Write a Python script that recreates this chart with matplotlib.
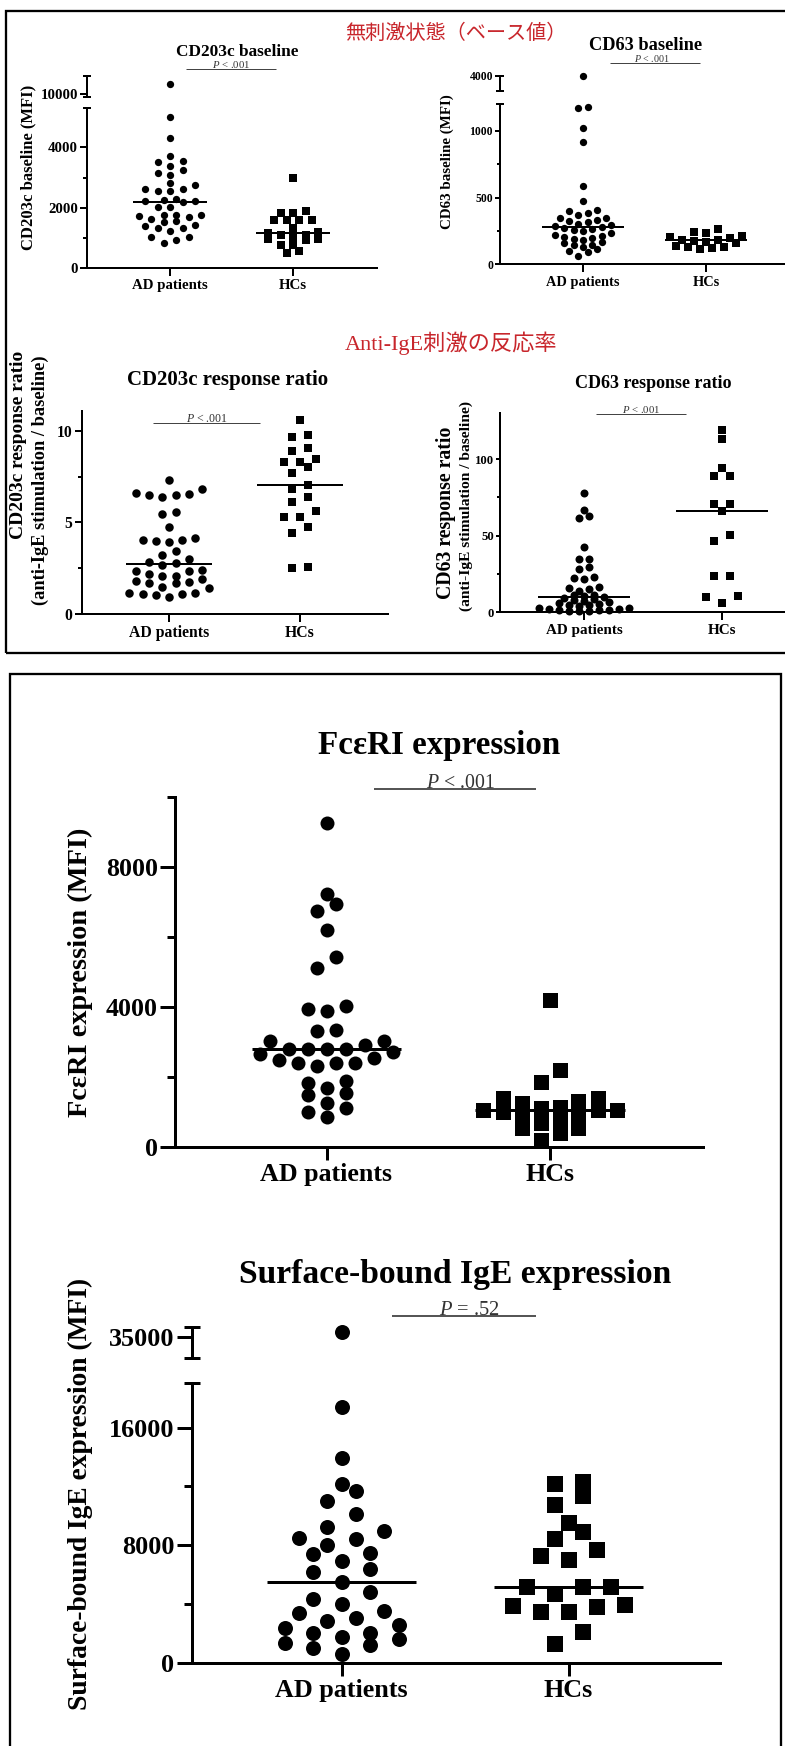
import numpy as np
import matplotlib
matplotlib.use('Agg')
import matplotlib.pyplot as plt
from matplotlib.patches import Rectangle
from matplotlib.lines import Line2D

W, H, DPI = 785, 1746, 100

plt.rcParams['font.family'] = ['Liberation Serif', 'Noto Sans CJK JP', 'DejaVu Sans']
plt.rcParams['font.weight'] = 'bold'
plt.rcParams['mathtext.fontset'] = 'custom'
plt.rcParams['mathtext.rm'] = 'Liberation Serif:normal'
plt.rcParams['mathtext.it'] = 'Liberation Serif:italic:normal'

groups = ['AD patients', 'HCs']

cd203c_base_ad = [10300, 5000, 4300, 3733, 3567, 3511, 3400, 3267, 3144, 3100,
                  2822, 2744, 2633, 2633, 2544, 2544, 2289, 2267, 2211, 2211,
                  2189, 2022, 2022, 1767, 1767, 1744, 1733, 1689, 1633, 1567,
                  1511, 1433, 1378, 1322, 1322, 1233, 1022, 1022, 933, 844]
cd203c_base_hc = [3000, 1878, 1822, 1822, 1600, 1600, 1580, 1578, 1322, 1211,
                  1178, 1100, 1100, 1044, 956, 956, 933, 767, 767, 578, 511]
cd63_base_ad = [4000, 1180, 1170, 1020, 920, 590, 475, 405, 400, 388, 370, 345,
                345, 332, 325, 315, 305, 298, 290, 280, 272, 262, 258, 248, 232,
                220, 210, 205, 200, 190, 185, 170, 160, 148, 145, 130, 115, 100,
                90, 65]
cd63_base_hc = [262, 245, 232, 210, 202, 200, 185, 182, 178, 170, 160, 138, 128,
                128, 120, 112]
cd203c_ratio_ad = [7.31, 6.80, 6.58, 6.55, 6.49, 6.49, 6.40, 5.58, 5.45, 4.73,
                   4.13, 4.04, 4.04, 4.00, 3.95, 3.45, 3.22, 2.98, 2.82, 2.76,
                   2.70, 2.40, 2.36, 2.36, 2.20, 2.07, 2.07, 1.89, 1.80, 1.75,
                   1.67, 1.67, 1.49, 1.40, 1.16, 1.16, 1.09, 1.09, 1.04, 0.95]
cd203c_ratio_hc = [10.58, 9.80, 9.64, 9.04, 8.90, 8.44, 8.31, 8.31, 8.04, 7.71,
                   7.07, 6.85, 6.40, 6.13, 5.64, 5.31, 5.31, 4.76, 4.44, 2.58, 2.49]
cd63_ratio_ad = [78, 66.6, 63, 61.6, 42.6, 34.7, 34.7, 29.9, 28.2, 23, 22.3, 21.6,
                 16.4, 15.7, 15.1, 14.2, 11.4, 11, 10.5, 10.2, 9.5, 8.5, 8, 7.5,
                 6.5, 6, 5.5, 5, 4.5, 4, 3, 2.5, 2.2, 2, 1.8, 1.5, 1.3, 1.1, 1, 0.8]
cd63_ratio_hc = [119.4, 112.9, 94.3, 88.8, 88.8, 70.9, 70.7, 65.9, 50.6, 46.3,
                 23.8, 23.8, 10.7, 9.8, 6.3]
fceri_ad = [9275, 7242, 6954, 6743, 6216, 5420, 5103, 4029, 3933, 3885, 3338,
            3309, 3021, 3021, 2900, 2782, 2782, 2782, 2782, 2700, 2650, 2542,
            2494, 2398, 2398, 2398, 2302, 1870, 1822, 1678, 1535, 1486, 1247,
            1103, 1007, 844]
fceri_hc = [4200, 2190, 1850, 1390, 1390, 1300, 1250, 1150, 1100, 1060, 1050,
            1050, 1000, 900, 800, 770, 670, 530, 530, 380, 200]
ige_ad = [35340, 17400, 13960, 12190, 11690, 10990, 10100, 9250, 8970, 8520,
          8450, 8000, 7500, 7430, 6930, 6410, 6190, 5500, 4830, 4370, 3990, 3530,
          3350, 3010, 2850, 2560, 2380, 2040, 1990, 1770, 1590, 1360, 1200, 970, 590]
ige_hc = [12300, 12190, 11330, 10720, 9520, 8900, 8450, 7660, 7250, 6980, 5170,
          5170, 5120, 4710, 3920, 3850, 3810, 3470, 3470, 2110, 1270]

section_titles = ['無刺激状態（ベース値）', 'Anti-IgE刺激の反応率']
p_texts = [r'$\mathit{P}$ < .001', r'$\mathit{P}$ < .001', r'$\mathit{P}$ < .001',
           r'$\mathit{P}$ < .001', r'$\mathit{P}$ < .001', r'$\mathit{P}$ = .52']

fig = plt.figure(figsize=(W / DPI, H / DPI), dpi=DPI)
renderer = fig.canvas.get_renderer()
PT = 72.0 / DPI  # points per pixel


def frect(x0, y0, x1, y1):
    return [x0 / W, 1 - y1 / H, (x1 - x0) / W, (y1 - y0) / H]


def fit_size(s, target, rotation=0, base=10.0, **kw):
    t = fig.text(0, 0, s, fontsize=base, rotation=rotation, **kw)
    bb = t.get_window_extent(renderer)
    L = bb.height if rotation == 90 else bb.width
    t.remove()
    return base * target / L


def put_text(s, x, y, target, rotation=0, ha='center', va='center', **kw):
    fs = fit_size(s, target, rotation=rotation, **kw)
    fig.text(x / W, 1 - y / H, s, fontsize=fs, rotation=rotation,
             ha=ha, va=va, **kw)


def fig_line(x0, x1, y0, y1, lw_px, color='black'):
    fig.add_artist(Line2D([x0 / W, x1 / W], [1 - y0 / H, 1 - y1 / H],
                          lw=lw_px * PT, color=color, solid_capstyle='butt'))


def swarm(ax, center, vals, col_px, diam_px, ppu, rowf=1.0):
    """GraphPad-like column scatter: bin points into rows, spread each row."""
    vals = np.asarray(vals, float)
    n = len(vals)
    if n == 0:
        return vals
    ypx = ax.transData.transform(np.column_stack([np.zeros(n), vals]))[:, 1]
    order = np.argsort(ypx, kind='stable')
    xs = np.full(n, float(center))
    i = 0
    while i < n:
        j = i
        while j + 1 < n and ypx[order[j + 1]] - ypx[order[i]] < diam_px * rowf:
            j += 1
        idx = order[i:j + 1]
        m = len(idx)
        pos = np.arange(m) - (m - 1) / 2.0
        pos = sorted(pos, key=lambda v: (abs(v), v))
        for k, ii in enumerate(idx):
            xs[ii] = center + pos[k] * col_px / ppu
        i = j + 1
    return xs


panels = [
    dict(ad=cd203c_base_ad, hc=cd203c_base_hc, box=(87, 377, 268, 108.3),
         xpos=(170, 293), ylim=(0, 5300), major=[0, 2000, 4000], minor=[1000, 3000],
         upper=(76, 96.7, (9930, 10550), [10000]), diam=(7.3, 7.3), col=(12.5, 12.5),
         rowf=(1.0, 1.0), lab_w=76, ytl_w=None, spine=2.0, tl=(7, 4), xtl=8,
         half=0.30, title=('CD203c baseline', 237, 52, 122),
         ylab=[('CD203c baseline (MFI)', 28, 167, 165)],
         pv=(231, 38, 186, 276, 69), pvlw=1.0),
    dict(ad=cd63_base_ad, hc=cd63_base_hc, box=(500, 785, 264.3, 104.3),
         xpos=(583, 706), ylim=(0, 1200), major=[0, 500, 1000], minor=[250, 750],
         upper=(76, 90.7, (3780, 4000), [4000]), diam=(7.3, 7.3), col=(9.3, 12),
         rowf=(1.0, 1.0), lab_w=73, ytl_w=23, spine=2.0, tl=(5, 3), xtl=8,
         half=0.33, title=('CD63 baseline', 645.5, 46, 113),
         ylab=[('CD63 baseline (MFI)', 447, 162, 135)],
         pv=(652, 35, 610, 700, 63.3), pvlw=1.0),
    dict(ad=cd203c_ratio_ad, hc=cd203c_ratio_hc, box=(81.7, 388, 614, 410.7),
         xpos=(169, 300), ylim=(0, 11.1), major=[0, 5, 10], minor=[2.5, 7.5],
         upper=None, diam=(8.5, 7.5), col=(13.2, 16), rowf=(1.0, 1.0),
         lab_w=80, ytl_w=None, spine=2.0, tl=(7, 4), xtl=8, half=0.33,
         title=('CD203c response ratio', 228, 380, 202),
         ylab=[('CD203c response ratio', 18.5, 445, 188),
               ('(anti-IgE stimulation / baseline)', 40, 480, 250)],
         pv=(207, 42, 153, 260, 422.7), pvlw=1.0),
    dict(ad=cd63_ratio_ad, hc=cd63_ratio_hc, box=(500, 785, 612.3, 413.3),
         xpos=(584, 722), ylim=(0, 130), major=[0, 50, 100], minor=[25, 75],
         upper=None, diam=(8.0, 7.3), col=(10, 16), rowf=(0.55, 1.0),
         lab_w=77, ytl_w=19, spine=2.0, tl=(4, 3), xtl=8, half=0.33,
         title=('CD63 response ratio', 653, 383, 157),
         ylab=[('CD63 response ratio', 446, 513, 172),
               ('(anti-IgE stimulation / baseline)', 466.5, 506, 210)],
         pv=(641, 38, 596, 686, 414.3), pvlw=1.0),
    dict(ad=fceri_ad, hc=fceri_hc, box=(175, 702.5, 1146.7, 797.3),
         xpos=(326.5, 550), ylim=(0, 10000), major=[0, 4000, 8000],
         minor=[2000, 6000, 10000], upper=None, diam=(14, 15), col=(19, 19),
         rowf=(1.0, 1.0), lab_w=132, ytl_w=None, spine=3.0, tl=(15, 8), xtl=13,
         half=0.335, title=('FcεRI expression', 439, 745, 243),
         ylab=[('FcεRI expression (MFI)', 80, 972, 290)],
         pv=(460, 70, 374, 536, 789.3), pvlw=1.8),
    dict(ad=ige_ad, hc=ige_hc, box=(191.5, 720, 1662.7, 1382.7),
         xpos=(341.5, 568.5), ylim=(0, 19060), major=[0, 8000, 16000],
         minor=[4000, 12000], upper=(1326.7, 1358.3, (33531, 35680), [35000]),
         diam=(15, 15.5), col=(28.5, 28), rowf=(1.0, 1.0), lab_w=133,
         ytl_w=None, spine=3.0, tl=(15, 8), xtl=13, half=0.33,
         title=('Surface-bound IgE expression', 455, 1275, 435),
         ylab=[('Surface-bound IgE expression (MFI)', 80, 1494, 435)],
         pv=(469, 62, 392, 536, 1316), pvlw=1.8),
]

for k, p in enumerate(panels):
    L, R, B, T = p['box']
    xa, xh = p['xpos']
    ppu = xh - xa
    xlim = ((L - xa) / ppu, (R - xa) / ppu)
    fs = fit_size(groups[0], p['lab_w'])
    ylabels = [str(int(v)) if float(v).is_integer() else str(v) for v in p['major']]
    if p['ytl_w']:
        yfs = fit_size(max(ylabels, key=len), p['ytl_w'])
    else:
        yfs = fs
    lw = p['spine'] * PT

    ax = fig.add_axes(frect(L, T, R, B))
    ax.set_xlim(*xlim)
    ax.set_ylim(*p['ylim'])
    ax.patch.set_alpha(0)
    for s in ['top', 'right']:
        ax.spines[s].set_visible(False)
    for s in ['left', 'bottom']:
        ax.spines[s].set_linewidth(lw)
    ax.set_xticks([0, 1])
    ax.set_xticklabels(groups, fontsize=fs)
    ax.set_yticks(p['major'])
    ax.set_yticklabels(ylabels, fontsize=yfs)
    ax.set_yticks(p['minor'], minor=True)
    ax.tick_params(axis='y', which='major', length=p['tl'][0] * PT, width=lw,
                   pad=1.5)
    ax.tick_params(axis='y', which='minor', length=p['tl'][1] * PT, width=lw)
    ax.tick_params(axis='x', length=p['xtl'] * PT, width=lw, pad=2.5)

    axu = None
    if p['upper'] is not None:
        ut, ub, uylim, uticks = p['upper']
        axu = fig.add_axes(frect(L, ut, R, ub))
        axu.set_xlim(*xlim)
        axu.set_ylim(*uylim)
        axu.patch.set_alpha(0)
        for s in ['top', 'right', 'bottom']:
            axu.spines[s].set_visible(False)
        axu.spines['left'].set_linewidth(lw)
        axu.set_xticks([])
        axu.set_yticks(uticks)
        axu.set_yticklabels([str(v) for v in uticks], fontsize=yfs)
        axu.tick_params(axis='y', length=p['tl'][0] * PT, width=lw, pad=1.5)
        cap = 4 if p['spine'] < 2.5 else 8
        fig_line(L - cap, L + cap, ut, ut, p['spine'])
        fig_line(L - cap, L + cap, ub, ub, p['spine'])
        fig_line(L - cap, L + cap, T, T, p['spine'])

    for gi, (vals, mk) in enumerate([(p['ad'], 'o'), (p['hc'], 's')]):
        vals = np.asarray(vals, float)
        d = p['diam'][gi]
        top = p['ylim'][1]
        low = vals[vals <= top]
        high = vals[vals > top]
        xs = swarm(ax, gi, low, p['col'][gi], d, ppu, p['rowf'][gi])
        ax.scatter(xs, low, s=(d * PT) ** 2, marker=mk, c='black',
                   linewidths=0, clip_on=False, zorder=3)
        if len(high) and axu is not None:
            xsu = swarm(axu, gi, high, p['col'][gi], d, ppu, p['rowf'][gi])
            axu.scatter(xsu, high, s=(d * PT) ** 2, marker=mk, c='black',
                        linewidths=0, clip_on=False, zorder=3)
        med = np.median(vals)
        ax.hlines(med, gi - p['half'], gi + p['half'], color='black',
                  lw=p['spine'] * PT, zorder=4)

    tt, tx, ty, tw = p['title']
    put_text(tt, tx, ty, tw)
    for (s, x, y, tw) in p['ylab']:
        put_text(s, x, y, tw, rotation=90)
    cx, tw, lx0, lx1, ly = p['pv']
    fig_line(lx0, lx1, ly, ly, p['pvlw'], color='#444444')
    put_text(p_texts[k], cx, ly - 1.0, tw, va='baseline', fontweight='normal',
             color='#333333')

red = '#c8262c'
put_text(section_titles[0], 456, 33, 222, color=red, fontweight='normal',
         family=['Noto Sans CJK JP'])
put_text(section_titles[1], 451, 343, 212, color=red, fontweight='normal',
         family=['Liberation Serif', 'Noto Sans CJK JP'])

fig.add_artist(Rectangle((6 / W, 1 - 653 / H), (787 - 6) / W, (653 - 10.5) / H,
                         transform=fig.transFigure, fill=False, lw=2.3 * PT,
                         edgecolor='black'))
fig.add_artist(Rectangle((9.5 / W, 1 - 1752 / H), (781.3 - 9.5) / W,
                         (1752 - 674) / H, transform=fig.transFigure, fill=False,
                         lw=2.3 * PT, edgecolor='black'))

fig.savefig('out.png', dpi=DPI)
